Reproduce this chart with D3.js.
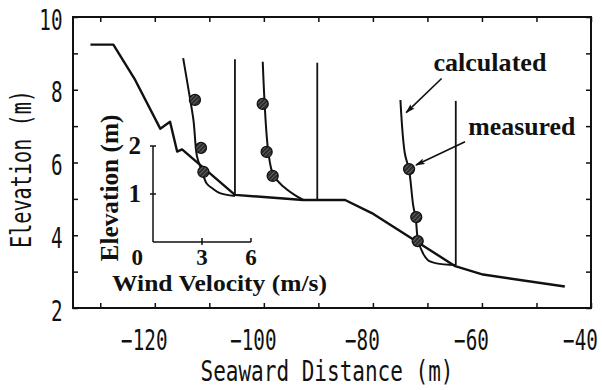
<!DOCTYPE html>
<html>
<head>
<meta charset="utf-8">
<script src="https://cdn.jsdelivr.net/npm/d3@7"></script>
<style>
  html, body { margin: 0; padding: 0; background: #fff; }
  svg { display: block; }
</style>
</head>
<body>
<svg id="chart" width="602" height="390"></svg>
<script>
// Beach profile (seaward distance vs elevation)
const terrainX = [-131.8, -127.6, -123.6, -119.0, -117.2, -115.9, -115.0, -105.3, -92.8, -85.1, -80.2, -64.9, -59.8, -44.8];
const terrainZ = [9.24, 9.24, 8.27, 6.93, 7.12, 6.30, 6.36, 5.11, 4.97, 4.97, 4.61, 3.15, 2.92, 2.59];

// Wind-profile stations: position along the profile and ground elevation
const stationX = [-105.3, -90.2, -64.8];
const stationZ = [5.08, 4.97, 3.18];
// Height of each station's reference mast (m above ground)
const mastHeight = [2.85, 2.86, 3.42];

// Calculated wind profiles: height above ground (m) and wind velocity (m/s)
const calcH1 = [0, 0.06, 0.15, 0.26, 0.54, 0.82, 1.58, 2.21, 2.87];
const calcV1 = [0, 0.92, 1.35, 1.73, 2.04, 2.32, 2.54, 2.84, 3.17];
const calcH2 = [0, 0.10, 0.28, 0.52, 1.01, 2.88];
const calcV2 = [0.86, 1.37, 2.08, 2.69, 3.00, 3.34];
const calcH3 = [0, 0.035, 0.10, 0.24, 0.52, 0.97, 1.25, 1.98, 2.33, 3.44];
const calcV3 = [0, 1.18, 1.70, 2.00, 2.31, 2.45, 2.61, 2.86, 3.12, 3.39];

// Measured wind velocities at three anemometer heights
const measuredH = [0.5, 1.0, 2.0];
const measuredV1 = [1.93, 2.08, 2.45];
const measuredV2 = [2.73, 3.10, 3.34];
const measuredV3 = [2.33, 2.42, 2.86];

// Axis ticks
const xTicks = [-130, -120, -110, -100, -90, -80, -70, -60, -50, -40];
const xTickLabels = [-120, -100, -80, -60, -40];
const yTicks = [2, 3, 4, 5, 6, 7, 8, 9, 10];
const yTickLabels = [2, 4, 6, 8, 10];
const velTicks = [0, 3, 6];
const heightTicks = [1, 2];

// Annotation anchors (seaward distance, elevation)
const calcArrow = [[-67.4, 8.31], [-73.9, 7.37]];
const measArrow = [[-63.1, 6.57], [-72.1, 5.93]];
const calcLabelPos = [-68.9, 8.52];
const measLabelPos = [-62.5, 6.76];

const svg = d3.select("#chart");
const plot = { left: 73, right: 591, top: 17, bottom: 308 };

const x = d3.scaleLinear().domain([-135, -40]).range([plot.left, plot.right]);
const y = d3.scaleLinear().domain([2, 10]).range([plot.bottom, plot.top]);

// Inset scale for the wind profiles
const vel = d3.scaleLinear().domain([0, 6]).range([153, 251]);
const hgt = d3.scaleLinear().domain([0, 2]).range([242, 146]);

const ink = "#111";
const axisFont = "'DejaVu Sans Mono', 'Liberation Mono', monospace";
const serif = "'Liberation Serif', 'Times New Roman', serif";
// narrow plotter-style lettering: monospace squeezed horizontally
const squeeze = 0.688;

// hatched fill for measured points
const defs = svg.append("defs");
const pat = defs.append("pattern").attr("id", "hatch")
  .attr("patternUnits", "userSpaceOnUse").attr("width", 3).attr("height", 3)
  .attr("patternTransform", "rotate(45)");
pat.append("rect").attr("width", 3).attr("height", 3).attr("fill", "#2a2a2a");
pat.append("line").attr("x1", 0).attr("y1", 0).attr("x2", 0).attr("y2", 3)
  .attr("stroke", "#9a9a9a").attr("stroke-width", 1);
const head = defs.append("marker").attr("id", "head")
  .attr("viewBox", "0 0 10 6").attr("refX", 9).attr("refY", 3)
  .attr("markerWidth", 10).attr("markerHeight", 6)
  .attr("markerUnits", "userSpaceOnUse").attr("orient", "auto");
head.append("path").attr("d", "M0,0 L10,3 L0,6 L2,3 Z").attr("fill", ink);

// ---- main axes (ticks pointing inward on all four sides) ----
function styleTicks(g) {
  g.select(".domain").remove();
  g.selectAll(".tick line").attr("stroke", ink).attr("stroke-width", 1.5);
}
const fmt = d3.format("");
function labelX(d) { return xTickLabels.includes(d) ? fmt(d) : ""; }
function labelY(d) { return yTickLabels.includes(d) ? fmt(d) : ""; }

const gx = svg.append("g").attr("transform", `translate(0,${plot.bottom})`)
  .call(d3.axisBottom(x).tickValues(xTicks).tickSizeInner(-5).tickSizeOuter(0).tickPadding(25).tickFormat(labelX));
styleTicks(gx);
gx.selectAll(".tick text")
  .attr("font-family", axisFont).attr("font-size", 28).attr("fill", ink)
  .attr("x", -11 / squeeze).attr("dy", 0).attr("y", 42)
  .attr("transform", `scale(${squeeze},1)`);

const gxTop = svg.append("g").attr("transform", `translate(0,${plot.top})`)
  .call(d3.axisTop(x).tickValues(xTicks).tickSizeInner(-5).tickSizeOuter(0).tickFormat(""));
styleTicks(gxTop);

const gy = svg.append("g").attr("transform", `translate(${plot.left},0)`)
  .call(d3.axisLeft(y).tickValues(yTicks).tickSizeInner(-5).tickSizeOuter(0).tickFormat(labelY));
styleTicks(gy);
gy.selectAll(".tick text")
  .attr("font-family", axisFont).attr("font-size", 28).attr("fill", ink)
  .attr("x", -10.5 / squeeze).attr("dy", 0).attr("y", 12)
  .attr("transform", `scale(${squeeze},1)`);

const gyRight = svg.append("g").attr("transform", `translate(${plot.right},0)`)
  .call(d3.axisRight(y).tickValues(yTicks).tickSizeInner(-5).tickSizeOuter(0).tickFormat(""));
styleTicks(gyRight);

// frame
svg.append("rect")
  .attr("x", plot.left).attr("y", plot.top)
  .attr("width", plot.right - plot.left).attr("height", plot.bottom - plot.top)
  .attr("fill", "none").attr("stroke", ink).attr("stroke-width", 2);

// axis titles
svg.append("text")
  .attr("x", (plot.left + plot.right) / 2 - 5).attr("y", 381)
  .attr("text-anchor", "middle").attr("font-family", axisFont).attr("font-size", 29)
  .attr("fill", ink).attr("textLength", 253).attr("lengthAdjust", "spacingAndGlyphs")
  .text("Seaward Distance (m)");
svg.append("text")
  .attr("transform", "translate(31,169) rotate(-90)")
  .attr("text-anchor", "middle").attr("font-family", axisFont).attr("font-size", 29)
  .attr("fill", ink).attr("textLength", 158).attr("lengthAdjust", "spacingAndGlyphs")
  .text("Elevation (m)");

// ---- beach profile ----
svg.append("path")
  .datum(d3.zip(terrainX, terrainZ))
  .attr("d", d3.line().x(d => x(d[0])).y(d => y(d[1])))
  .attr("fill", "none").attr("stroke", ink).attr("stroke-width", 2.4)
  .attr("stroke-linejoin", "round");

// ---- wind profiles, drawn at each station with the inset's scale ----
function px(i, v) { return x(stationX[i]) - (vel(v) - vel(0)); }
function py(i, h) { return y(stationZ[i]) - (hgt(0) - hgt(h)); }

const calc = [[calcH1, calcV1], [calcH2, calcV2], [calcH3, calcV3]];
const meas = [measuredV1, measuredV2, measuredV3];

stationX.forEach((sx, i) => {
  // reference mast
  svg.append("line")
    .attr("x1", px(i, 0)).attr("x2", px(i, 0))
    .attr("y1", py(i, 0)).attr("y2", py(i, mastHeight[i]))
    .attr("stroke", ink).attr("stroke-width", 1.8);

  // calculated profile
  const [hs, vs] = calc[i];
  svg.append("path")
    .datum(d3.zip(vs, hs))
    .attr("d", d3.line().curve(d3.curveCatmullRom.alpha(0.5))
      .x(d => px(i, d[0])).y(d => py(i, d[1])))
    .attr("fill", "none").attr("stroke", ink).attr("stroke-width", 2);

  // measured points
  svg.append("g").selectAll("circle")
    .data(d3.zip(meas[i], measuredH))
    .join("circle")
    .attr("cx", d => px(i, d[0])).attr("cy", d => py(i, d[1]))
    .attr("r", 5.5).attr("fill", "url(#hatch)")
    .attr("stroke", ink).attr("stroke-width", 1.3);
});

// ---- inset velocity / height scale ----
const inset = svg.append("g").attr("stroke", ink).attr("stroke-width", 1.5);
inset.append("line").attr("x1", vel(0)).attr("x2", vel(0)).attr("y1", hgt(0)).attr("y2", hgt(2));
inset.append("line").attr("x1", vel(0)).attr("x2", vel(6)).attr("y1", hgt(0)).attr("y2", hgt(0));
heightTicks.forEach(t => {
  inset.append("line").attr("x1", vel(0) - 3).attr("x2", vel(0) + 3).attr("y1", hgt(t)).attr("y2", hgt(t));
});
velTicks.filter(t => t > 0).forEach(t => {
  inset.append("line").attr("x1", vel(t)).attr("x2", vel(t)).attr("y1", hgt(0) - 4).attr("y2", hgt(0) + (t < 6 ? 3 : 0));
});

const insetText = svg.append("g").attr("font-family", serif).attr("font-weight", "bold")
  .attr("font-size", 25).attr("fill", ink);
heightTicks.forEach(t => {
  insetText.append("text").attr("x", vel(0) - 12).attr("y", hgt(t) + 8)
    .attr("text-anchor", "end").text(t);
});
velTicks.forEach(t => {
  insetText.append("text")
    .attr("x", t === 0 ? vel(0) - 10 : vel(t))
    .attr("y", 265).attr("font-size", 23)
    .attr("text-anchor", t === 0 ? "end" : "middle").text(t);
});
insetText.append("text").attr("x", 112).attr("y", 291).attr("font-size", 24)
  .attr("textLength", 215).attr("lengthAdjust", "spacingAndGlyphs")
  .text("Wind Velocity (m/s)");
insetText.append("text").attr("transform", "translate(118,188) rotate(-90)")
  .attr("text-anchor", "middle")
  .attr("textLength", 147).attr("lengthAdjust", "spacingAndGlyphs")
  .text("Elevation (m)");

// ---- annotations ----
[calcArrow, measArrow].forEach(a => {
  svg.append("line")
    .attr("x1", x(a[0][0])).attr("y1", y(a[0][1]))
    .attr("x2", x(a[1][0])).attr("y2", y(a[1][1]))
    .attr("stroke", ink).attr("stroke-width", 1.6)
    .attr("marker-end", "url(#head)");
});
insetText.append("text").attr("x", x(calcLabelPos[0])).attr("y", y(calcLabelPos[1]))
  .attr("textLength", 113).attr("lengthAdjust", "spacingAndGlyphs").text("calculated");
insetText.append("text").attr("x", x(measLabelPos[0])).attr("y", y(measLabelPos[1]))
  .attr("textLength", 107).attr("lengthAdjust", "spacingAndGlyphs").text("measured");
</script>
</body>
</html>
